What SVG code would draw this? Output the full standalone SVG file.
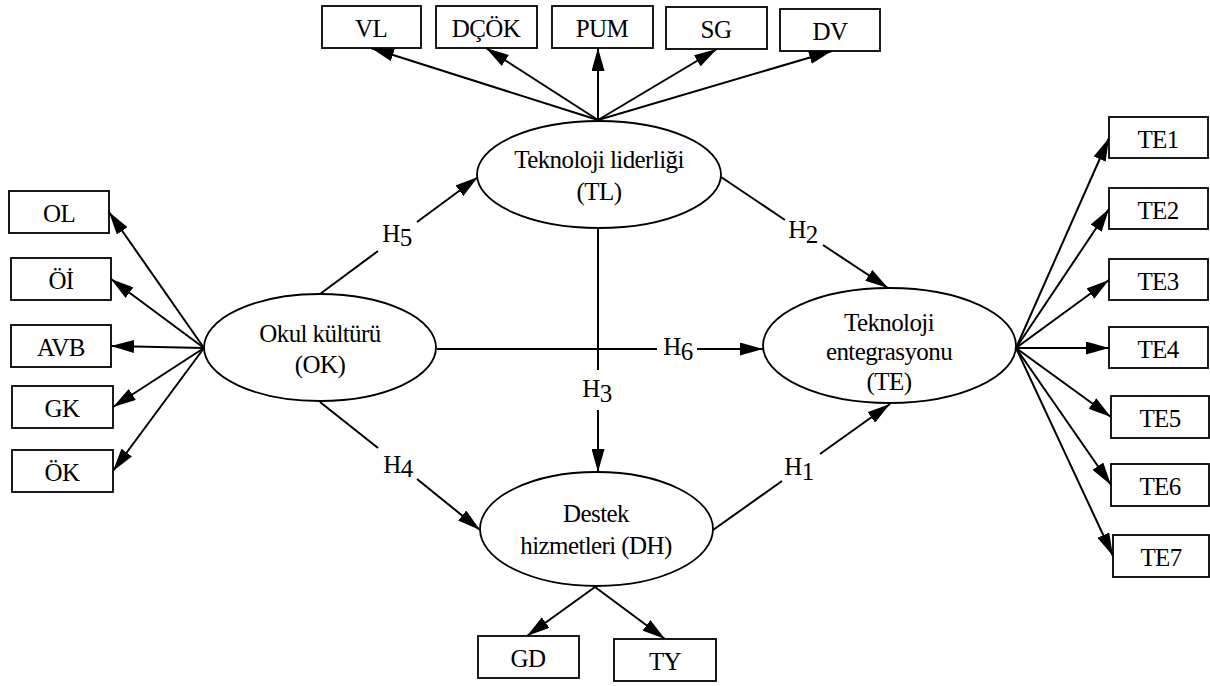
<svg xmlns="http://www.w3.org/2000/svg" width="1210" height="686" viewBox="0 0 1210 686">
<defs>
<marker id="ah" markerUnits="userSpaceOnUse" markerWidth="24" markerHeight="13" refX="23" refY="6.5" orient="auto">
<path d="M0,0 L23,6.5 L0,13 z" fill="#000"/>
</marker>
<style>
.box{fill:#fff;stroke:#000;stroke-width:1.8}
.ell{fill:#fff;stroke:#000;stroke-width:1.8}
.t{font-family:'Liberation Serif',serif;font-size:25px;fill:#000;text-anchor:middle;letter-spacing:-0.6px}
.e{fill:none;stroke:#000;stroke-width:2}
.a{marker-end:url(#ah)}
</style>
</defs>
<rect width="1210" height="686" fill="#fff"/>
<g id="connectors">
<line class="e a" x1="598" y1="120" x2="371" y2="48"/>
<line class="e a" x1="598" y1="120" x2="486" y2="48"/>
<line class="e a" x1="598" y1="120" x2="598" y2="48"/>
<line class="e a" x1="598" y1="120" x2="717" y2="49"/>
<line class="e a" x1="598" y1="120" x2="832" y2="51"/>
<line class="e a" x1="204" y1="348" x2="109" y2="212"/>
<line class="e a" x1="204" y1="348" x2="111" y2="279"/>
<line class="e a" x1="204" y1="348" x2="111" y2="346"/>
<line class="e a" x1="204" y1="348" x2="113" y2="407"/>
<line class="e a" x1="204" y1="348" x2="113" y2="471"/>
<line class="e a" x1="1016" y1="348" x2="1109" y2="138"/>
<line class="e a" x1="1016" y1="348" x2="1109" y2="209"/>
<line class="e a" x1="1016" y1="348" x2="1109" y2="280"/>
<line class="e a" x1="1016" y1="348" x2="1109" y2="348"/>
<line class="e a" x1="1016" y1="348" x2="1111" y2="417"/>
<line class="e a" x1="1016" y1="348" x2="1111" y2="485"/>
<line class="e a" x1="1016" y1="348" x2="1113" y2="556"/>
<line class="e a" x1="595" y1="587" x2="527" y2="636"/>
<line class="e a" x1="595" y1="587" x2="665" y2="639"/>
<line class="e" x1="320" y1="294" x2="378" y2="251"/>
<line class="e a" x1="417" y1="222" x2="478" y2="177"/>
<line class="e" x1="320" y1="402" x2="378" y2="448"/>
<line class="e a" x1="417" y1="479" x2="480" y2="530"/>
<line class="e" x1="721" y1="177" x2="785" y2="220"/>
<line class="e a" x1="823" y1="245" x2="888" y2="288"/>
<line class="e" x1="713" y1="530" x2="782" y2="481"/>
<line class="e a" x1="820" y1="454" x2="890" y2="404"/>
<line class="e" x1="437" y1="349" x2="657" y2="349"/>
<line class="e a" x1="697" y1="349" x2="763" y2="349"/>
<line class="e" x1="598" y1="228" x2="598" y2="370"/>
<line class="e a" x1="598" y1="410" x2="598" y2="472"/>
</g>
<g font-family="Liberation Serif">
<g id="edge-labels">
<text class="t" x="397" y="242">H<tspan dy="4">5</tspan></text>
<text class="t" x="398" y="473">H<tspan dy="4">4</tspan></text>
<text class="t" x="803" y="238">H<tspan dy="5">2</tspan></text>
<text class="t" x="799" y="475">H<tspan dy="5">1</tspan></text>
<text class="t" x="678" y="355">H<tspan dy="5">6</tspan></text>
<text class="t" x="597" y="397">H<tspan dy="5">3</tspan></text>
</g>
<g id="OK"><ellipse class="ell" cx="320" cy="347.5" rx="116" ry="53.5"/><text class="t" x="320" y="342">Okul kültürü</text><text class="t" x="320" y="373">(OK)</text></g>
<g id="TL"><ellipse class="ell" cx="599" cy="174.5" rx="122" ry="53.5"/><text class="t" x="599" y="168">Teknoloji liderliği</text><text class="t" x="599" y="200">(TL)</text></g>
<g id="DH"><ellipse class="ell" cx="596.5" cy="529" rx="116.5" ry="57"/><text class="t" x="596" y="522">Destek</text><text class="t" x="596" y="554">hizmetleri (DH)</text></g>
<g id="TE"><ellipse class="ell" cx="889.5" cy="345.5" rx="126.5" ry="57.5"/><text class="t" x="889" y="331">Teknoloji</text><text class="t" x="889" y="360">entegrasyonu</text><text class="t" x="889" y="390">(TE)</text></g>
<g id="VL"><rect class="box" x="322" y="6" width="99" height="42"/><text class="t" x="371" y="37">VL</text></g>
<g id="DCOK"><rect class="box" x="436" y="6" width="101" height="42"/><text class="t" x="486" y="37">DÇÖK</text></g>
<g id="PUM"><rect class="box" x="552" y="6" width="101" height="42"/><text class="t" x="602" y="37">PUM</text></g>
<g id="SG"><rect class="box" x="666" y="7" width="101" height="42"/><text class="t" x="716" y="38">SG</text></g>
<g id="DV"><rect class="box" x="780" y="9" width="100" height="42"/><text class="t" x="830" y="40">DV</text></g>
<g id="OL"><rect class="box" x="9" y="191" width="100" height="42"/><text class="t" x="59" y="222">OL</text></g>
<g id="OI"><rect class="box" x="11" y="258" width="100" height="42"/><text class="t" x="61" y="289">Öİ</text></g>
<g id="AVB"><rect class="box" x="11" y="325" width="100" height="42"/><text class="t" x="61" y="356">AVB</text></g>
<g id="GK"><rect class="box" x="12" y="386" width="101" height="42"/><text class="t" x="62" y="417">GK</text></g>
<g id="OK2"><rect class="box" x="12" y="450" width="101" height="42"/><text class="t" x="62" y="481">ÖK</text></g>
<g id="TE1"><rect class="box" x="1109" y="117" width="99" height="41"/><text class="t" x="1158" y="148">TE1</text></g>
<g id="TE2"><rect class="box" x="1109" y="188" width="99" height="41"/><text class="t" x="1158" y="219">TE2</text></g>
<g id="TE3"><rect class="box" x="1109" y="259" width="99" height="41"/><text class="t" x="1158" y="290">TE3</text></g>
<g id="TE4"><rect class="box" x="1109" y="327" width="99" height="41"/><text class="t" x="1158" y="358">TE4</text></g>
<g id="TE5"><rect class="box" x="1111" y="396" width="98" height="42"/><text class="t" x="1160" y="427">TE5</text></g>
<g id="TE6"><rect class="box" x="1111" y="464" width="98" height="42"/><text class="t" x="1160" y="495">TE6</text></g>
<g id="TE7"><rect class="box" x="1113" y="535" width="96" height="42"/><text class="t" x="1161" y="566">TE7</text></g>
<g id="GD"><rect class="box" x="478" y="636" width="101" height="42"/><text class="t" x="528" y="667">GD</text></g>
<g id="TY"><rect class="box" x="614" y="639" width="102" height="42"/><text class="t" x="665" y="670">TY</text></g>
</g>
</svg>
